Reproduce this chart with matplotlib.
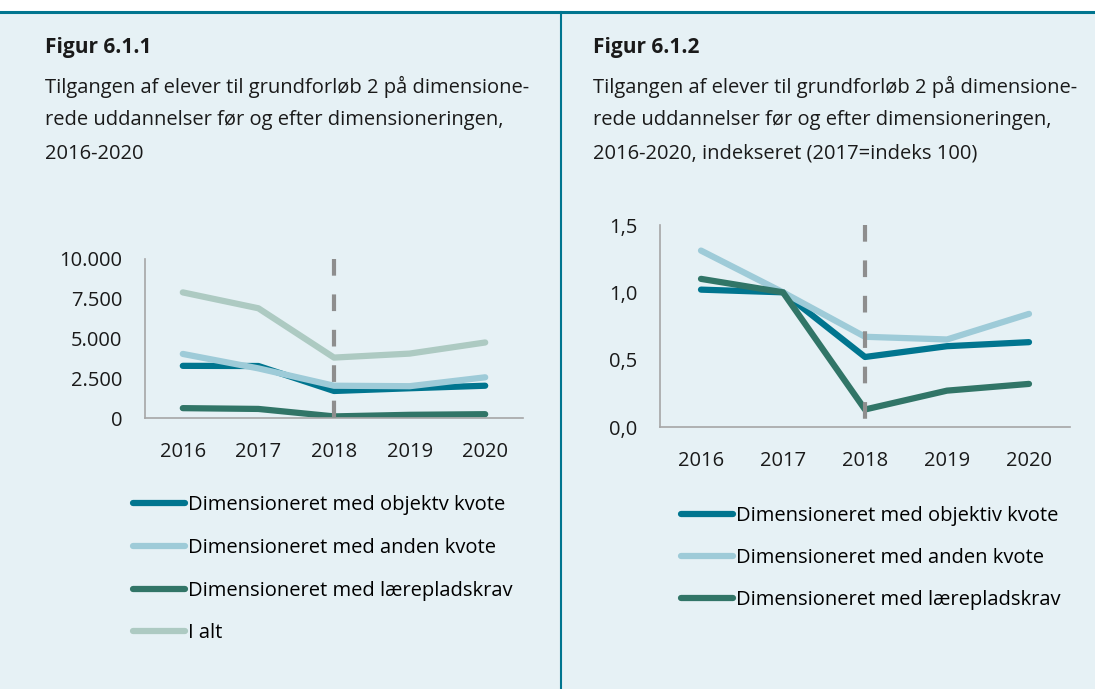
import matplotlib.pyplot as plt
from matplotlib.ticker import FuncFormatter
from matplotlib.lines import Line2D

plt.rcParams['font.family'] = ['Open Sans', 'DejaVu Sans']

years = ['2016', '2017', '2018', '2019', '2020']

# Figur 6.1.1 - antal elever
objektiv = [3280, 3270, 1700, 1870, 2030]
anden = [4030, 3120, 2030, 2000, 2560]
laereplads = [620, 570, 100, 200, 240]
i_alt = [7900, 6900, 3800, 4050, 4750]

# Figur 6.1.2 - indekseret (2017 = 1,0)
objektiv_idx = [1.02, 1.00, 0.52, 0.60, 0.63]
anden_idx = [1.31, 1.00, 0.67, 0.65, 0.84]
laereplads_idx = [1.10, 1.00, 0.13, 0.27, 0.32]

labels_left = ['Dimensioneret med objektv kvote', 'Dimensioneret med anden kvote',
               'Dimensioneret med lærepladskrav', 'I alt']
labels_right = ['Dimensioneret med objektiv kvote', 'Dimensioneret med anden kvote',
                'Dimensioneret med lærepladskrav']

c_obj = '#00758f'
c_anden = '#9ecbd8'
c_laere = '#317567'
c_ialt = '#adcac2'
bg = '#e6f1f5'
teal = '#00758f'
grey_axis = '#a6a6a6'
fs = 14.5

fig = plt.figure(figsize=(10.95, 6.89), dpi=100)
fig.patch.set_facecolor(bg)

# white strip on top, frame lines
fig.add_artist(plt.Rectangle((0, 1 - 12 / 689), 1, 12 / 689, transform=fig.transFigure,
                             facecolor='white', edgecolor='none', zorder=-5))
fig.add_artist(Line2D([0, 1], [1 - 12 / 689] * 2, color=teal, lw=2.2, transform=fig.transFigure))
fig.add_artist(Line2D([561 / 1095] * 2, [0, 1 - 12 / 689], color=teal, lw=1.5, transform=fig.transFigure))


def px(x, y):
    return x / 1095, 1 - y / 689


def header(x, title, lines):
    fig.text(*px(x, 47), title, fontsize=15, fontweight='bold', va='center', color='#1a1a1a')
    for i, ln in enumerate(lines):
        fig.text(*px(x, 87 + 33.5 * i), ln, fontsize=fs, va='center', color='#1a1a1a')


header(45, 'Figur 6.1.1', ['Tilgangen af elever til grundforløb 2 på dimensione-',
                           'rede uddannelser før og efter dimensioneringen,',
                           '2016-2020'])
header(593, 'Figur 6.1.2', ['Tilgangen af elever til grundforløb 2 på dimensione-',
                            'rede uddannelser før og efter dimensioneringen,',
                            '2016-2020, indekseret (2017=indeks 100)'])


def style(ax):
    ax.set_facecolor('none')
    for s in ['top', 'right']:
        ax.spines[s].set_visible(False)
    for s in ['left', 'bottom']:
        ax.spines[s].set_color(grey_axis)
        ax.spines[s].set_linewidth(1.2)
    ax.tick_params(length=0, labelsize=fs, colors='#1a1a1a')
    ax.tick_params(axis='y', pad=16.5)
    ax.tick_params(axis='x', pad=17)
    ax.set_xlim(-0.5, 4.5)
    ax.set_xticks(range(len(years)))
    ax.set_xticklabels(years)
    # dashed marker at dimensioneringen (2018), drawn top-down, on top of the lines
    ax.axvline(years.index('2018'), ymin=1, ymax=0, color='#8e8e8e', lw=3,
               linestyle=(0, (4, 4.5)), zorder=3)


x = range(len(years))

# left chart
ax1 = fig.add_axes([145 / 1095, 1 - 418 / 689, 378 / 1095, 159 / 689])
style(ax1)
series_left = [objektiv, anden, laereplads, i_alt]
colors_left = [c_obj, c_anden, c_laere, c_ialt]
handles = []
for vals, c, lab in zip(series_left, colors_left, labels_left):
    h, = ax1.plot(x, vals, color=c, lw=4.5, solid_capstyle='round', label=lab, zorder=2)
    handles.append(h)
ax1.set_ylim(0, 10000)
ax1.set_yticks([0, 2500, 5000, 7500, 10000])
ax1.yaxis.set_major_formatter(FuncFormatter(lambda v, p: f'{int(v):,}'.replace(',', '.')))
fig.legend(handles=handles, loc='upper left', bbox_to_anchor=px(115, 477), frameon=False,
           fontsize=fs, handlelength=2.6, handletextpad=0.1, labelspacing=1.13)

# right chart
ax2 = fig.add_axes([660 / 1095, 1 - 427 / 689, 410 / 1095, 202 / 689])
style(ax2)
series_right = [objektiv_idx, anden_idx, laereplads_idx]
handles2 = []
for vals, c, lab in zip(series_right, colors_left[:3], labels_right):
    h, = ax2.plot(x, vals, color=c, lw=4.5, solid_capstyle='round', label=lab, zorder=2)
    handles2.append(h)
ax2.set_ylim(0, 1.5)
ax2.set_yticks([0, 0.5, 1.0, 1.5])
ax2.yaxis.set_major_formatter(FuncFormatter(lambda v, p: f'{v:.1f}'.replace('.', ',')))
fig.legend(handles=handles2, loc='upper left', bbox_to_anchor=px(663, 488), frameon=False,
           fontsize=fs, handlelength=2.6, handletextpad=0.1, labelspacing=1.1)

fig.savefig('out.png', dpi=100, facecolor=fig.get_facecolor())
